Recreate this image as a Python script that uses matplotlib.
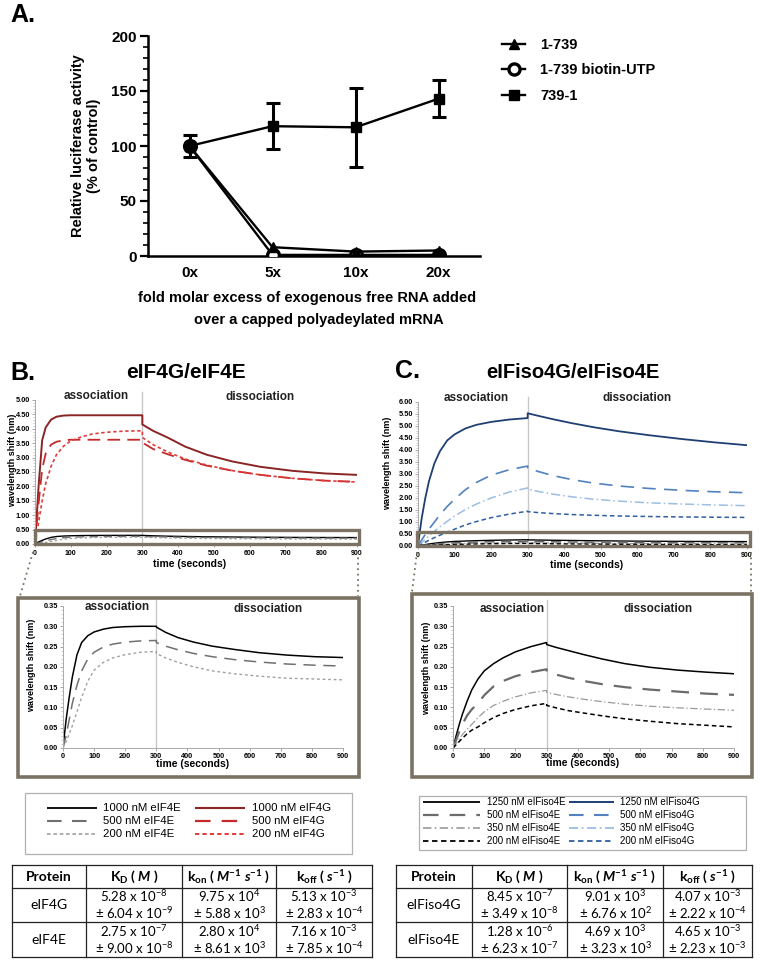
import numpy as np
import matplotlib
matplotlib.use("Agg")
import matplotlib.pyplot as plt
from matplotlib.lines import Line2D
from matplotlib.patches import Rectangle
from matplotlib.ticker import MultipleLocator, FormatStrFormatter

plt.rcParams['font.family'] = ['Liberation Sans', 'DejaVu Sans']
plt.rcParams['mathtext.fontset'] = 'custom'
plt.rcParams['mathtext.rm'] = 'Lato'
plt.rcParams['mathtext.it'] = 'Lato:italic'
plt.rcParams['mathtext.bf'] = 'Lato:bold'
plt.rcParams['mathtext.bfit'] = 'Lato:italic:bold'

# ---------------- Panel A data ----------------
fold_labels = ["0x", "5x", "10x", "20x"]
act_1_739 = [100, 8, 4, 5]
act_1_739_biotin = [100, 1, 1, 1]
act_739_1 = [100, 118, 117, 143]
err_739_1 = [10, 21, 36, 17]

# ---------------- kinetic time grids ----------------
t_assoc = [0, 5, 10, 20, 30, 45, 60, 80, 100, 130, 160, 200, 250, 300]
t_dissoc = [300, 330, 370, 420, 480, 550, 630, 720, 810, 900]

# Panel B: eIF4G (main) and eIF4E (inset)
b_4g_1000_a = [0, 1.0, 2.0, 3.6, 4.05, 4.32, 4.42, 4.46, 4.47, 4.47, 4.47, 4.47, 4.47, 4.47]
b_4g_1000_d = [4.15, 3.93, 3.70, 3.38, 3.10, 2.87, 2.68, 2.54, 2.45, 2.40]
b_4g_500_a = [0, 0.7, 1.4, 2.6, 3.15, 3.45, 3.55, 3.60, 3.62, 3.62, 3.62, 3.62, 3.62, 3.62]
b_4g_500_d = [3.52, 3.30, 3.12, 2.92, 2.72, 2.55, 2.40, 2.28, 2.20, 2.16]
b_4g_200_a = [0, 0.35, 0.75, 1.5, 2.1, 2.7, 3.1, 3.4, 3.58, 3.72, 3.82, 3.88, 3.92, 3.93]
b_4g_200_d = [3.70, 3.45, 3.20, 2.95, 2.74, 2.55, 2.40, 2.28, 2.20, 2.15]

b_4e_1000_a = [0, 0.035, 0.07, 0.125, 0.175, 0.23, 0.26, 0.277, 0.286, 0.293, 0.297, 0.299, 0.300, 0.300]
b_4e_1000_d = [0.298, 0.285, 0.272, 0.261, 0.251, 0.243, 0.235, 0.229, 0.225, 0.223]
b_4e_500_a = [0, 0.015, 0.03, 0.07, 0.11, 0.155, 0.19, 0.22, 0.236, 0.249, 0.256, 0.261, 0.264, 0.265]
b_4e_500_d = [0.260, 0.251, 0.242, 0.233, 0.225, 0.218, 0.212, 0.207, 0.204, 0.202]
b_4e_200_a = [0, 0.008, 0.016, 0.035, 0.055, 0.09, 0.125, 0.165, 0.192, 0.211, 0.222, 0.230, 0.236, 0.238]
b_4e_200_d = [0.233, 0.222, 0.211, 0.200, 0.190, 0.183, 0.177, 0.172, 0.170, 0.168]

# Panel C: eIFiso4G (main) and eIFiso4E (inset)
c_4g_1250_a = [0, 0.6, 1.15, 2.0, 2.7, 3.45, 3.95, 4.4, 4.65, 4.9, 5.05, 5.17, 5.27, 5.33]
c_4g_1250_d = [5.53, 5.42, 5.28, 5.12, 4.95, 4.78, 4.62, 4.46, 4.32, 4.20]
c_4g_500_a = [0, 0.12, 0.25, 0.48, 0.70, 1.0, 1.3, 1.65, 1.95, 2.35, 2.65, 2.95, 3.18, 3.33]
c_4g_500_d = [3.25, 3.10, 2.93, 2.77, 2.62, 2.50, 2.40, 2.32, 2.26, 2.22]
c_4g_350_a = [0, 0.07, 0.14, 0.28, 0.42, 0.62, 0.80, 1.03, 1.25, 1.52, 1.75, 2.0, 2.25, 2.42]
c_4g_350_d = [2.37, 2.27, 2.16, 2.05, 1.95, 1.87, 1.80, 1.75, 1.71, 1.68]
c_4g_200_a = [0, 0.04, 0.08, 0.16, 0.24, 0.35, 0.45, 0.58, 0.70, 0.88, 1.02, 1.18, 1.33, 1.45]
c_4g_200_d = [1.43, 1.39, 1.35, 1.31, 1.28, 1.25, 1.23, 1.21, 1.20, 1.19]

c_4e_1250_a = [0, 0.015, 0.03, 0.058, 0.083, 0.115, 0.143, 0.170, 0.190, 0.208, 0.222, 0.237, 0.250, 0.260]
c_4e_1250_d = [0.255, 0.248, 0.240, 0.230, 0.219, 0.208, 0.199, 0.192, 0.187, 0.183]
c_4e_500_a = [0, 0.01, 0.02, 0.04, 0.058, 0.08, 0.095, 0.11, 0.13, 0.152, 0.165, 0.177, 0.187, 0.194]
c_4e_500_d = [0.188, 0.181, 0.173, 0.165, 0.157, 0.150, 0.144, 0.139, 0.134, 0.131]
c_4e_350_a = [0, 0.005, 0.011, 0.022, 0.033, 0.046, 0.058, 0.075, 0.089, 0.105, 0.115, 0.126, 0.136, 0.142]
c_4e_350_d = [0.137, 0.132, 0.126, 0.120, 0.114, 0.108, 0.103, 0.099, 0.096, 0.093]
c_4e_200_a = [0, 0.004, 0.008, 0.016, 0.024, 0.035, 0.044, 0.052, 0.062, 0.075, 0.085, 0.095, 0.104, 0.110]
c_4e_200_d = [0.105, 0.099, 0.092, 0.086, 0.079, 0.072, 0.066, 0.060, 0.056, 0.052]

# Tables
tab_cols = ["Protein", r"K$_\mathbf{D}$ ( $\mathbfit{M}$ )",
            r"k$_\mathbf{on}$ ( $\mathbfit{M}^{\mathbf{-1}}\ \mathbfit{s}^{\mathbf{-1}}$ )",
            r"k$_\mathbf{off}$ ( $\mathbfit{s}^{\mathbf{-1}}$ )"]
tabB_proteins = ["eIF4G", "eIF4E"]
tabB_kd = [("5.28", -8, "6.04", -9), ("2.75", -7, "9.00", -8)]
tabB_kon = [("9.75", 4, "5.88", 3), ("2.80", 4, "8.61", 3)]
tabB_koff = [("5.13", -3, "2.83", -4), ("7.16", -3, "7.85", -4)]
tabC_proteins = ["eIFiso4G", "eIFiso4E"]
tabC_kd = [("8.45", -7, "3.49", -8), ("1.28", -6, "6.23", -7)]
tabC_kon = [("9.01", 3, "6.76", 2), ("4.69", 3, "3.23", 3)]
tabC_koff = [("4.07", -3, "2.22", -4), ("4.65", -3, "2.23", -3)]

# ---------------- figure ----------------
W, H = 761, 960
fig = plt.figure(figsize=(W / 100, H / 100), dpi=100)


def rect(l, t, r, b):
    return [l / W, 1 - b / H, (r - l) / W, (b - t) / H]


BOXC = '#7b7263'

# ---------------- Panel A ----------------
axA = fig.add_axes(rect(148, 36, 480, 256))
xA = np.arange(len(fold_labels))
axA.plot(xA, act_1_739_biotin, color='k', lw=1.7, marker='o', ms=8.5, mfc='white', mec='k', mew=2.4, zorder=3)
axA.plot(xA, act_1_739, color='k', lw=1.7, marker='^', ms=6.5, zorder=4)
axA.errorbar(xA, act_739_1, yerr=err_739_1, color='k', lw=1.7, marker='s', ms=6.5,
             capsize=5, capthick=2.2, elinewidth=2.2, zorder=5)
axA.set_xlim(-0.5, 3.5)
axA.set_ylim(0, 200)
axA.set_xticks(xA)
axA.set_xticklabels(fold_labels)
axA.yaxis.set_major_locator(MultipleLocator(50))
axA.yaxis.set_minor_locator(MultipleLocator(10))
axA.tick_params(axis='y', which='major', length=6, width=1.6, labelsize=11, pad=2)
axA.tick_params(axis='y', which='minor', length=3.5, width=1.2)
axA.tick_params(axis='x', length=0, labelsize=11, pad=7)
for lab in axA.get_xticklabels() + axA.get_yticklabels():
    lab.set_fontweight('bold')
for s in ['top', 'right']:
    axA.spines[s].set_visible(False)
for s in ['left', 'bottom']:
    axA.spines[s].set_linewidth(1.8)
hA = [Line2D([], [], color='k', lw=1.7, marker='^', ms=6.5),
      Line2D([], [], color='k', lw=1.7, marker='o', ms=8, mfc='white', mew=2.4),
      Line2D([], [], color='k', lw=1.7, marker='s', ms=6.5)]
axA.legend(hA, ['1-739', '1-739 biotin-UTP', '739-1'], loc='upper left',
           bbox_to_anchor=(502 / W, 1 - 38 / H), bbox_transform=fig.transFigure,
           frameon=False, prop={'weight': 'bold', 'size': 10.5}, handlelength=1.6,
           labelspacing=0.78, handletextpad=1.0, borderaxespad=0, borderpad=0)


# ---------------- kinetic helpers ----------------
def curve(ax, a, d, color, lw, dashes=None):
    t = np.concatenate([t_assoc, t_dissoc])
    v = np.concatenate([a, d])
    ln, = ax.plot(t, v, color=color, lw=lw, solid_capstyle='butt')
    if dashes is not None:
        ln.set_dashes(dashes)
    return ln


def style_kin(ax, ymax, ystep, yminor, ylab_size, xlab_size, vline_top, xpad):
    ax.set_xlim(0, 900)
    ax.set_ylim(0, ymax)
    ax.xaxis.set_major_locator(MultipleLocator(100))
    ax.yaxis.set_major_locator(MultipleLocator(ystep))
    ax.yaxis.set_minor_locator(MultipleLocator(yminor))
    ax.yaxis.set_major_formatter(FormatStrFormatter('%.2f'))
    ax.tick_params(axis='y', which='major', length=2, width=0.6, color='#999999', labelsize=ylab_size, pad=1.5)
    ax.tick_params(axis='y', which='minor', length=1.2, width=0.5, color='#bbbbbb')
    ax.tick_params(axis='x', length=2, width=0.6, color='#999999', labelsize=xlab_size, pad=xpad)
    for lab in ax.get_xticklabels() + ax.get_yticklabels():
        lab.set_fontweight('bold')
    for s in ['top', 'right']:
        ax.spines[s].set_visible(False)
    for s in ['left', 'bottom']:
        ax.spines[s].set_color('#aaaaaa')
        ax.spines[s].set_linewidth(0.7)
    ax.patch.set_alpha(0)
    ax.axvline(300, ymin=0, ymax=vline_top, color='#c8c8c8', lw=1.0, clip_on=False, zorder=0)


# ---------------- Panel B main ----------------
axB = fig.add_axes(rect(35, 400, 357, 544))
curve(axB, b_4g_1000_a, b_4g_1000_d, '#8b2525', 1.4)
curve(axB, b_4g_500_a, b_4g_500_d, '#c42a2a', 1.3, (7, 4))
curve(axB, b_4g_200_a, b_4g_200_d, '#e23a3a', 1.2, (2, 1.6))
curve(axB, b_4e_1000_a, b_4e_1000_d, 'black', 1.0)
curve(axB, b_4e_500_a, b_4e_500_d, '#707070', 1.0, (6, 4))
curve(axB, b_4e_200_a, b_4e_200_d, '#a0a0a0', 0.9, (2, 2))
style_kin(axB, 5.0, 0.5, 0.1, 5.3, 5.0, 1.055, 2.0)
axB.spines['bottom'].set_visible(False)

# ---------------- Panel B inset ----------------
axBi = fig.add_axes(rect(63, 606, 343, 748))
curve(axBi, b_4e_1000_a, b_4e_1000_d, 'black', 1.1)
curve(axBi, b_4e_500_a, b_4e_500_d, '#707070', 1.1, (8, 5))
curve(axBi, b_4e_200_a, b_4e_200_d, '#a0a0a0', 1.0, (2, 2))
style_kin(axBi, 0.35, 0.05, 0.01, 5.3, 5.3, 1.04, 1.5)

# ---------------- Panel C main ----------------
axC = fig.add_axes(rect(418, 402, 747, 546))
curve(axC, c_4g_1250_a, c_4g_1250_d, '#1f3f73', 1.3)
curve(axC, c_4g_500_a, c_4g_500_d, '#5282c0', 1.2, (8, 5))
curve(axC, c_4g_350_a, c_4g_350_d, '#9dbde3', 1.1, (6, 2, 1, 2))
curve(axC, c_4g_200_a, c_4g_200_d, '#2f5fa0', 1.1, (3, 2))
curve(axC, c_4e_1250_a, c_4e_1250_d, 'black', 1.0)
curve(axC, c_4e_500_a, c_4e_500_d, '#6b6b6b', 1.2, (6, 4))
curve(axC, c_4e_350_a, c_4e_350_d, '#9a9a9a', 0.9, (5, 2, 1, 2))
curve(axC, c_4e_200_a, c_4e_200_d, 'black', 1.0, (3, 2))
style_kin(axC, 6.0, 0.5, 0.1, 5.3, 5.0, 1.035, 2.0)
axC.spines['bottom'].set_visible(False)

# ---------------- Panel C inset ----------------
axCi = fig.add_axes(rect(453, 606, 734, 748))
curve(axCi, c_4e_1250_a, c_4e_1250_d, 'black', 1.1)
curve(axCi, c_4e_500_a, c_4e_500_d, '#6b6b6b', 1.6, (8, 5))
curve(axCi, c_4e_350_a, c_4e_350_d, '#9a9a9a', 0.9, (6, 2, 1, 2))
curve(axCi, c_4e_200_a, c_4e_200_d, 'black', 1.1, (3, 2))
style_kin(axCi, 0.35, 0.05, 0.01, 5.3, 5.3, 1.04, 1.5)

# ---------------- overlay (pixel coords) ----------------
ov = fig.add_axes([0, 0, 1, 1], zorder=10)
ov.set_xlim(0, W)
ov.set_ylim(H, 0)
ov.axis('off')


def T(x, y, s, **kw):
    kw.setdefault('ha', 'center')
    kw.setdefault('va', 'center')
    ov.text(x, y, s, **kw)


# Panel labels & titles
T(10, 15, 'A.', ha='left', fontsize=18, fontweight='bold')
T(86, 146, 'Relative luciferase activity\n(% of control)', rotation=90, fontsize=10.5,
  fontweight='bold', linespacing=1.1)
T(307, 298, 'fold molar excess of exogenous free RNA added', fontsize=10.5, fontweight='bold')
T(319, 320, 'over a capped polyadeylated mRNA', fontsize=10.5, fontweight='bold')

T(10, 373, 'B.', ha='left', fontsize=18, fontweight='bold')
T(186, 373, 'eIF4G/eIF4E', fontsize=15, fontweight='bold')
T(395, 371, 'C.', ha='left', fontsize=18, fontweight='bold')
T(573, 372, 'eIFiso4G/eIFiso4E', fontsize=14.5, fontweight='bold')

# association / dissociation labels
for (x, y, s) in [(96, 396, 'association'), (260, 397, 'dissociation'),
                  (476, 398, 'association'), (637, 398, 'dissociation'),
                  (117, 607, 'association'), (268, 609, 'dissociation'),
                  (512, 609, 'association'), (658, 609, 'dissociation')]:
    T(x, y, s, fontsize=8.5, fontweight='bold', color='#222222')

# axis titles
for (x, y) in [(190, 564), (587, 565), (193, 764), (583, 763)]:
    T(x, y, 'time (seconds)', fontsize=7.5, fontweight='bold')
for (x, y) in [(13, 460), (388, 463), (32, 665), (427, 668)]:
    T(x, y, 'wavelength shift (nm)', rotation=90, fontsize=6.5, fontweight='bold')

# zoom boxes and connectors
ov.add_patch(Rectangle((35, 530), 324, 14, fill=False, ec=BOXC, lw=2.4))
ov.add_patch(Rectangle((417, 532), 333, 14, fill=False, ec=BOXC, lw=2.4))
ov.add_patch(Rectangle((18, 598), 341, 179, fill=False, ec=BOXC, lw=2.6))
ov.add_patch(Rectangle((412, 594), 340, 183, fill=False, ec=BOXC, lw=2.6))
for (x0, y0, x1, y1) in [(33, 552, 20, 596), (358, 552, 358, 596),
                         (417, 552, 412, 592), (751, 552, 751, 592)]:
    ov.plot([x0, x1], [y0, y1], color=BOXC, lw=1.3, ls=(0, (1, 2)))

# legends B
ov.add_patch(Rectangle((25, 793), 327, 61, fill=False, ec='#b0b0b0', lw=0.9))
legB = [
    (47, 97, 103, 808, 'black', None, 1.3, '1000 nM eIF4E'),
    (47, 97, 103, 821, '#707070', (7, 5), 1.5, '500 nM eIF4E'),
    (47, 97, 103, 834, '#a0a0a0', (2.2, 1.6), 1.2, '200 nM eIF4E'),
    (195, 245, 252, 808, '#8b2525', None, 1.5, '1000 nM eIF4G'),
    (195, 245, 252, 821, '#c42a2a', (7, 5), 1.6, '500 nM eIF4G'),
    (195, 245, 252, 834, '#e23a3a', (2.2, 1.6), 1.4, '200 nM eIF4G'),
]
for (x0, x1, xt, y, c, dsh, lw, lab) in legB:
    ln, = ov.plot([x0, x1], [y, y], color=c, lw=lw, solid_capstyle='butt')
    if dsh is not None:
        ln.set_dashes(dsh)
    T(xt, y, lab, ha='left', fontsize=8.2)

# legends C
legC = [
    (423, 480, 487, 802, 'black', None, 1.3, '1250 nM eIFiso4E'),
    (423, 480, 487, 815, '#6b6b6b', (7, 5), 1.6, '500 nM eIFiso4E'),
    (423, 480, 487, 828, '#9a9a9a', (5, 2, 1, 2), 1.2, '350 nM eIFiso4E'),
    (423, 480, 487, 841, 'black', (3, 2), 1.3, '200 nM eIFiso4E'),
    (569, 614, 620, 802, '#1f3f73', None, 1.4, '1250 nM eIFiso4G'),
    (569, 614, 620, 815, '#5282c0', (7, 5), 1.5, '500 nM eIFiso4G'),
    (569, 614, 620, 828, '#9dbde3', (5, 2, 1, 2), 1.3, '350 nM eIFiso4G'),
    (569, 614, 620, 841, '#2f5fa0', (3, 2), 1.3, '200 nM eIFiso4G'),
]
ov.add_patch(Rectangle((419, 796), 327, 54, fill=False, ec='#b0b0b0', lw=0.9))
for (x0, x1, xt, y, c, dsh, lw, lab) in legC:
    ln, = ov.plot([x0, x1], [y, y], color=c, lw=lw, solid_capstyle='butt')
    if dsh is not None:
        ln.set_dashes(dsh)
    T(xt, y, lab, ha='left', fontsize=7.0)


# tables
def sci(m, e, pm=False):
    pre = '\u00b1 ' if pm else ''
    return pre + m + ' x 10$^{\\mathregular{' + str(e) + '}}$'


def table(xs, proteins, kd, kon, koff):
    ys = [865, 888, 922, 957]
    x0, x1 = xs[0], xs[-1]
    for y in ys:
        ov.plot([x0, x1], [y, y], color='#222222', lw=0.9)
    for x in xs:
        ov.plot([x, x], [ys[0], ys[-1]], color='#222222', lw=0.9)
    cx = [(xs[i] + xs[i + 1]) / 2 for i in range(4)]
    for i, h in enumerate(tab_cols):
        T(cx[i], 877, h, fontsize=10, fontweight='bold', family='Lato')
    for r in range(2):
        yc = (ys[r + 1] + ys[r + 2]) / 2
        T(cx[0], yc, proteins[r], fontsize=10, family='Lato')
        for j, col in enumerate([kd, kon, koff]):
            m1, e1, m2, e2 = col[r]
            T(cx[j + 1], yc - 8.5, sci(m1, e1), fontsize=9.5, family='Lato')
            T(cx[j + 1], yc + 8.5, sci(m2, e2, True), fontsize=9.5, family='Lato')


table([12, 86, 182, 276, 372], tabB_proteins, tabB_kd, tabB_kon, tabB_koff)
table([396, 472, 567, 663, 752], tabC_proteins, tabC_kd, tabC_kon, tabC_koff)

fig.savefig('out.png', dpi=100)
